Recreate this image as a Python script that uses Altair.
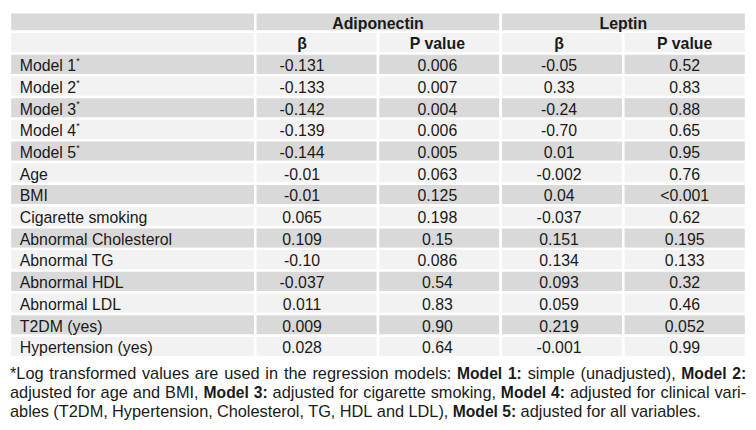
import altair as alt
import pandas as pd

# ---------------- data ----------------
labels = ["Model 1", "Model 2", "Model 3", "Model 4", "Model 5", "Age", "BMI",
          "Cigarette smoking", "Abnormal Cholesterol", "Abnormal TG", "Abnormal HDL",
          "Abnormal LDL", "T2DM (yes)", "Hypertension (yes)"]
starred = [True, True, True, True, True] + [False] * 9
adipo_beta = ["-0.131", "-0.133", "-0.142", "-0.139", "-0.144", "-0.01", "-0.01",
              "0.065", "0.109", "-0.10", "-0.037", "0.011", "0.009", "0.028"]
adipo_p = ["0.006", "0.007", "0.004", "0.006", "0.005", "0.063", "0.125",
           "0.198", "0.15", "0.086", "0.54", "0.83", "0.90", "0.64"]
leptin_beta = ["-0.05", "0.33", "-0.24", "-0.70", "0.01", "-0.002", "0.04",
               "-0.037", "0.151", "0.134", "0.093", "0.059", "0.219", "-0.001"]
leptin_p = ["0.52", "0.83", "0.88", "0.65", "0.95", "0.76", "<0.001",
            "0.62", "0.195", "0.133", "0.32", "0.46", "0.052", "0.99"]
groups = ["Adiponectin", "Leptin"]
subheads = ["β", "P value", "β", "P value"]

footnote_lines = [
    [("*Log transformed values are used in the regression models:", False), ("Model 1:", True),
     ("simple (unadjusted),", False), ("Model 2:", True)],
    [("adjusted for age and BMI,", False), ("Model 3:", True),
     ("adjusted for cigarette smoking,", False), ("Model 4:", True),
     ("adjusted for clinical vari-", False)],
    [("ables (T2DM, Hypertension, Cholesterol, TG, HDL and LDL),", False), ("Model 5:", True),
     ("adjusted for all variables.", False)],
]
footnote_justify = [True, True, False]

# ---------------- layout ----------------
REF_W, REF_H = 756, 430
W, H = 748, 422
sx = W / REF_W
FONT = "Liberation Sans"
TXT = "#1a1a1a"
GRAY, LIGHT = "#d9d9d9", "#f2f2f2"

col_edges = [0, 252, 378, 504, 630, 756]
text_x = [10, 300, 439, 564, 693]
ROW_H0, ROW_H = 20.3, 22.46
TABLE_FS = 16.2
FOOT_FS, FOOT_BFS = 16.7, 16.0
foot_base = [380, 399.5, 419]


def row_top(k):
    return 0.0 if k == 0 else ROW_H0 + ROW_H * (k - 1)


def row_base(k):
    return (row_top(k) + row_top(k + 1)) / 2 + 7


# Arial / Liberation Sans advance widths (units per 1000)
REG = {" ": 278, "(": 333, ")": 333, "*": 389, ",": 278, "-": 333, ".": 278, ":": 278, "<": 584}
REG.update({d: 556 for d in "0123456789"})
REG.update(dict(zip("ABCDEFGHIJKLMNOPQRSTUVWXYZ",
                    [667, 667, 722, 722, 667, 611, 778, 722, 278, 500, 667, 556, 833, 722, 778,
                     667, 778, 722, 667, 611, 722, 667, 944, 667, 667, 611])))
REG.update(dict(zip("abcdefghijklmnopqrstuvwxyz",
                    [556, 556, 500, 556, 556, 278, 556, 556, 222, 222, 500, 222, 833, 556, 556,
                     556, 556, 333, 500, 278, 556, 500, 722, 500, 500, 500])))
BOLD = {" ": 278, ":": 333, "M": 833, "o": 611, "d": 611, "e": 556, "l": 278}
BOLD.update({d: 556 for d in "0123456789"})


def text_width(s, bold, fs):
    table = BOLD if bold else REG
    return sum(table.get(ch, 556) for ch in s) / 1000 * fs


# ---------------- tables for marks ----------------
cells = []
cells += [dict(x=0, x2=252, y=row_top(0), y2=row_top(1), fill=GRAY),
          dict(x=252, x2=504, y=row_top(0), y2=row_top(1), fill=GRAY),
          dict(x=504, x2=756, y=row_top(0), y2=row_top(1), fill=GRAY)]
for c in range(5):
    cells.append(dict(x=col_edges[c], x2=col_edges[c + 1], y=row_top(1), y2=row_top(2), fill=LIGHT))
for i in range(len(labels)):
    k = i + 2
    for c in range(5):
        cells.append(dict(x=col_edges[c], x2=col_edges[c + 1], y=row_top(k), y2=row_top(k + 1),
                          fill=GRAY if i % 2 == 0 else LIGHT))
cells_df = pd.DataFrame(cells)

heads = [dict(x=(252 + 504) / 2, y=row_base(0), t=groups[0]),
         dict(x=(504 + 756) / 2, y=row_base(0), t=groups[1])]
for c, s in enumerate(subheads):
    heads.append(dict(x=text_x[c + 1], y=row_base(1), t=s))
heads_df = pd.DataFrame(heads)

vals = []
for i in range(len(labels)):
    for c, col in enumerate([adipo_beta, adipo_p, leptin_beta, leptin_p]):
        vals.append(dict(x=text_x[c + 1], y=row_base(i + 2), t=col[i]))
vals_df = pd.DataFrame(vals)

labs_df = pd.DataFrame([dict(x=text_x[0], y=row_base(i + 2), t=l) for i, l in enumerate(labels)])
stars_df = pd.DataFrame([dict(x=text_x[0] + text_width(l, False, TABLE_FS) + 0.5,
                              y=row_base(i + 2) - 7.5, t="*")
                         for i, l in enumerate(labels) if starred[i]])

words = []
for li, (segs, just) in enumerate(zip(footnote_lines, footnote_justify)):
    ws = []
    for s, b in segs:
        for w in s.split(" "):
            ws.append((w, b))
    widths = [text_width(w, b, FOOT_BFS if b else FOOT_FS) for w, b in ws]
    space = text_width(" ", False, FOOT_FS)
    gap = (REF_W - sum(widths)) / (len(ws) - 1) if just else space
    xpos = 0.0
    for (w, b), wd in zip(ws, widths):
        words.append(dict(x=xpos, y=foot_base[li], t=w, bold=b))
        xpos += wd + gap
words_df = pd.DataFrame(words)

# ---------------- chart ----------------
xs = alt.Scale(domain=[0, REF_W], nice=False, zero=False)
ys = alt.Scale(domain=[0, REF_H], nice=False, zero=False, reverse=True)
X = alt.X("x:Q", scale=xs, axis=None)
Y = alt.Y("y:Q", scale=ys, axis=None)

rects = alt.Chart(cells_df).mark_rect(stroke="white", strokeWidth=2.5).encode(
    x=X, x2="x2:Q", y=Y, y2="y2:Q", fill=alt.Fill("fill:N", scale=None))

tfs = TABLE_FS * sx
head_l = alt.Chart(heads_df).mark_text(align="center", baseline="alphabetic", font=FONT,
                                       fontSize=tfs, fontWeight="bold", color=TXT).encode(
    x=X, y=Y, text="t:N")
val_l = alt.Chart(vals_df).mark_text(align="center", baseline="alphabetic", font=FONT,
                                     fontSize=tfs, color=TXT).encode(x=X, y=Y, text="t:N")
lab_l = alt.Chart(labs_df).mark_text(align="left", baseline="alphabetic", font=FONT,
                                     fontSize=tfs, color=TXT).encode(x=X, y=Y, text="t:N")
star_l = alt.Chart(stars_df).mark_text(align="left", baseline="alphabetic", font=FONT,
                                       fontSize=9, color=TXT).encode(x=X, y=Y, text="t:N")
foot_r = alt.Chart(words_df[~words_df["bold"]]).mark_text(
    align="left", baseline="alphabetic", font=FONT, fontSize=FOOT_FS * sx, color=TXT).encode(
    x=X, y=Y, text="t:N")
foot_b = alt.Chart(words_df[words_df["bold"]]).mark_text(
    align="left", baseline="alphabetic", font=FONT, fontSize=FOOT_BFS * sx, fontWeight="bold",
    color=TXT).encode(x=X, y=Y, text="t:N")

chart = alt.layer(rects, head_l, val_l, lab_l, star_l, foot_r, foot_b).properties(
    width=W, height=H, padding=0,
    autosize=alt.AutoSizeParams(type="fit", contains="padding"),
    background="white",
).configure_view(stroke=None)

chart.save("out.html", embed_options={"renderer": "svg", "actions": False})
